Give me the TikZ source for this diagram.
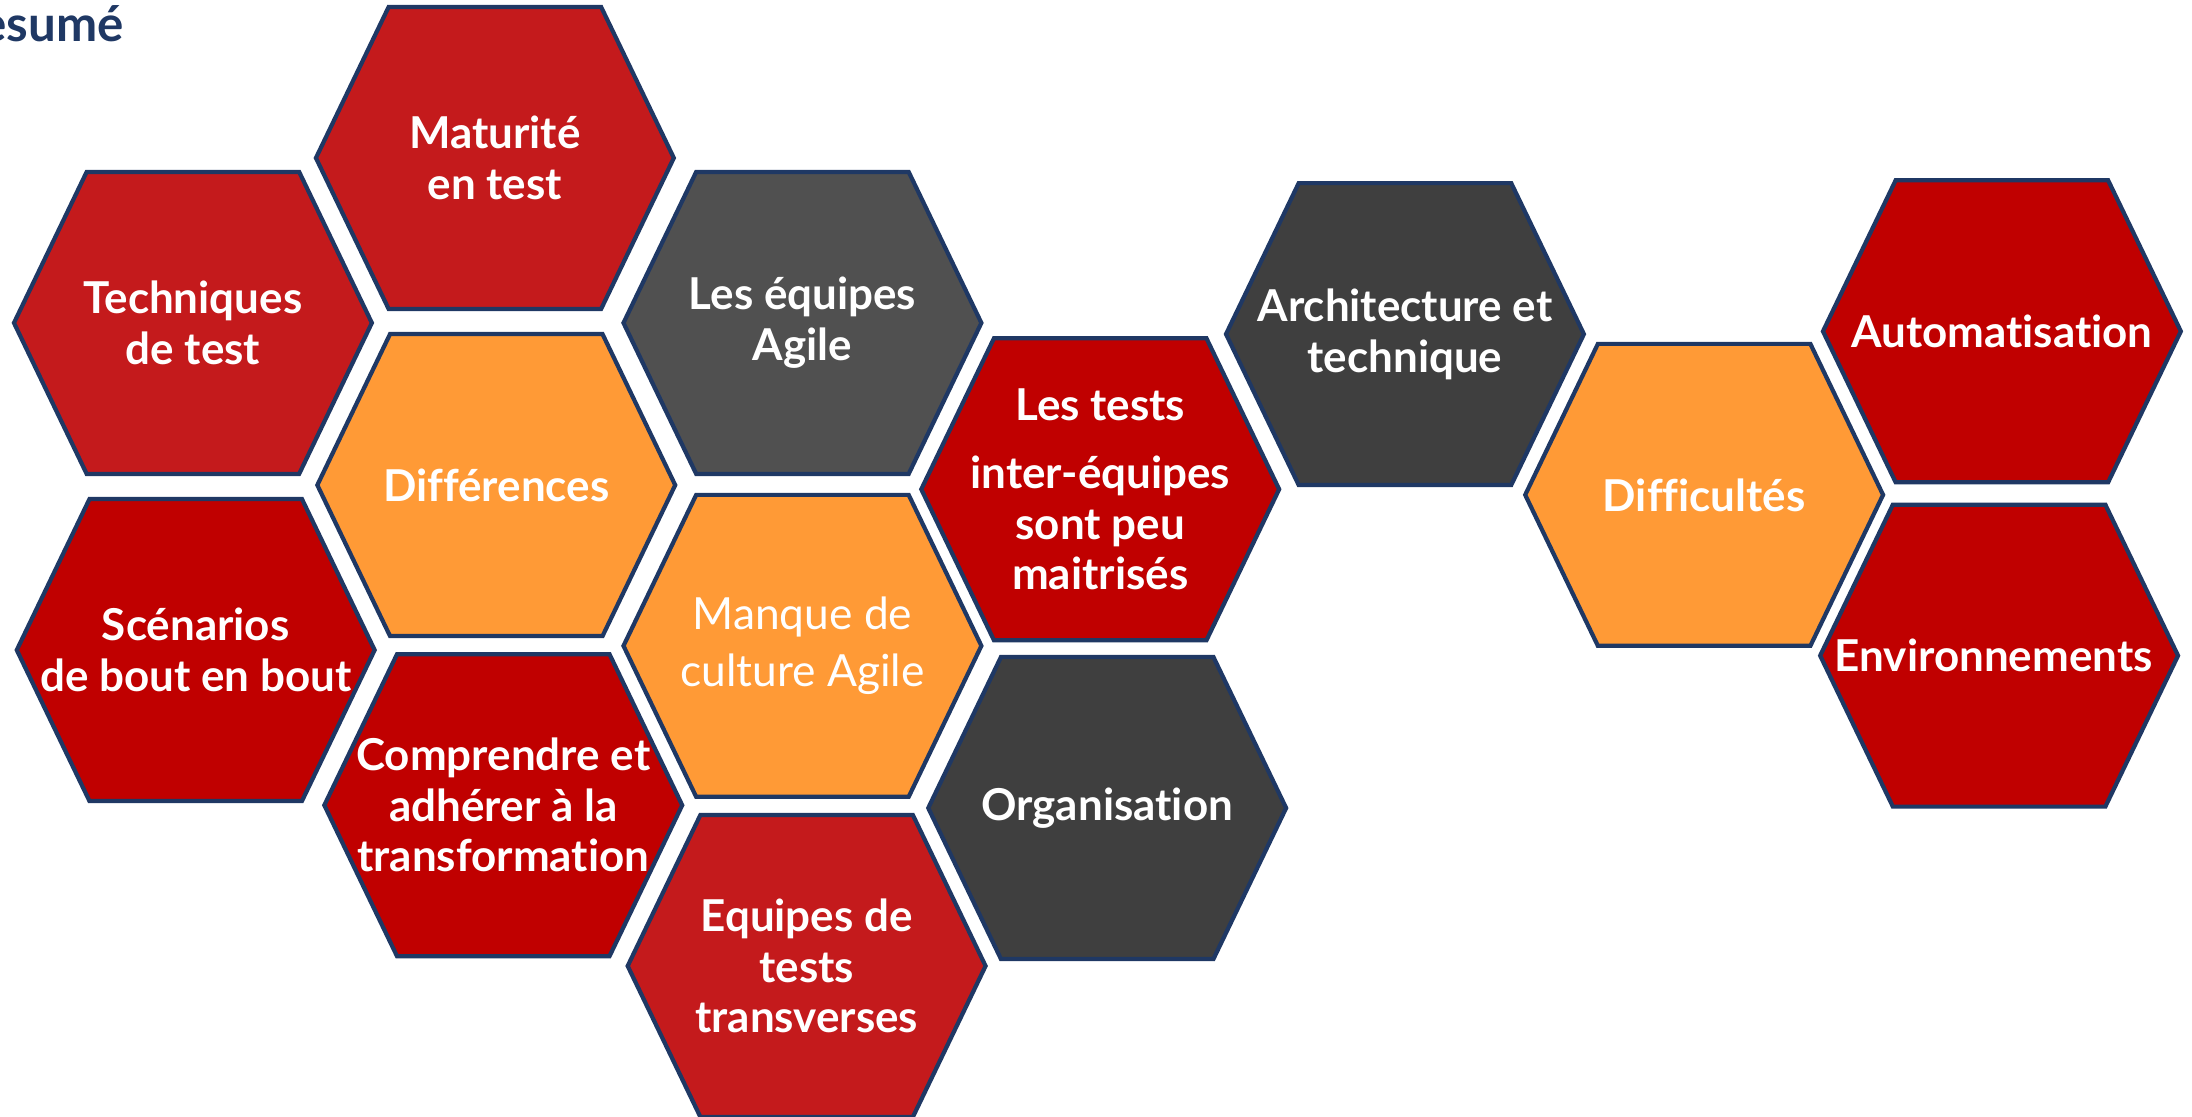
\documentclass[tikz,border=0pt]{standalone}
\usepackage{fontspec}
\setmainfont{Lato}[Ligatures={NoCommon}]
\usepackage{tikz}

\definecolor{hexred}{HTML}{C41A1C}
\definecolor{hexdeep}{HTML}{C00000}
\definecolor{hexgrey}{HTML}{505050}
\definecolor{hexdark}{HTML}{3F3F3F}
\definecolor{hexorange}{HTML}{FF9A36}
\definecolor{hexline}{HTML}{1F3864}

\tikzset{
	hexcell/.style={fill=#1, draw=hexline, line width=1.2pt, line join=miter},
	hextext/.style={text=white, align=center, inner sep=0pt, font=\fontsize{12.5}{14.4}\selectfont\bfseries},
	hexthin/.style={text=white, align=center, inner sep=0pt, font=\fontsize{12.6}{16.4}\selectfont},
}

\begin{document}
\begin{tikzpicture}[x=0.01398cm, y=-0.01398cm]
	\useasboundingbox (0,0) rectangle (1568,799);
	% title
	\node[anchor=east, inner sep=0pt, text=hexline, font=\fontsize{14}{16}\selectfont\bfseries] (titre) at (89,17) {Resumé};
	% cells
	\foreach \px/\py/\col/\sty/\nm/\txt in {
		354/113/hexred/hextext/maturite/{Maturité\\en test},
		138/231/hexred/hextext/techniques/{Techniques\\de test},
		574/231/hexgrey/hextext/equipes/{Les équipes\\Agile},
		355/347/hexorange/hextext/differences/{Différences},
		140/465/hexdeep/hextext/scenarios/{Scénarios\\de bout en bout},
		574/462/hexorange/hexthin/manque/{Manque de\\culture Agile},
		787/350/hexdeep/hextext/intertests/{Les tests\\[5pt]inter-équipes\\sont peu\\maitrisés},
		360/576/hexdeep/hextext/comprendre/{Comprendre et\\adhérer à la\\transformation},
		792/578/hexdark/hextext/organisation/{Organisation},
		577/691/hexred/hextext/transverses/{Equipes de\\tests\\transverses},
		1005/239/hexdark/hextext/architecture/{Architecture et\\technique},
		1219/354/hexorange/hextext/difficultes/{Difficultés},
		1432/237/hexdeep/hextext/automatisation/{Automatisation},
		1430/469/hexdeep/hextext/environnements/{Environnements}
	} {
		\filldraw[hexcell=\col] (\px-128,\py) -- (\px-76,\py-108) -- (\px+76,\py-108)
			-- (\px+128,\py) -- (\px+76,\py+108) -- (\px-76,\py+108) -- cycle;
		\node[\sty] (\nm) at (\px,\py) {\txt};
	}
\end{tikzpicture}
\end{document}
